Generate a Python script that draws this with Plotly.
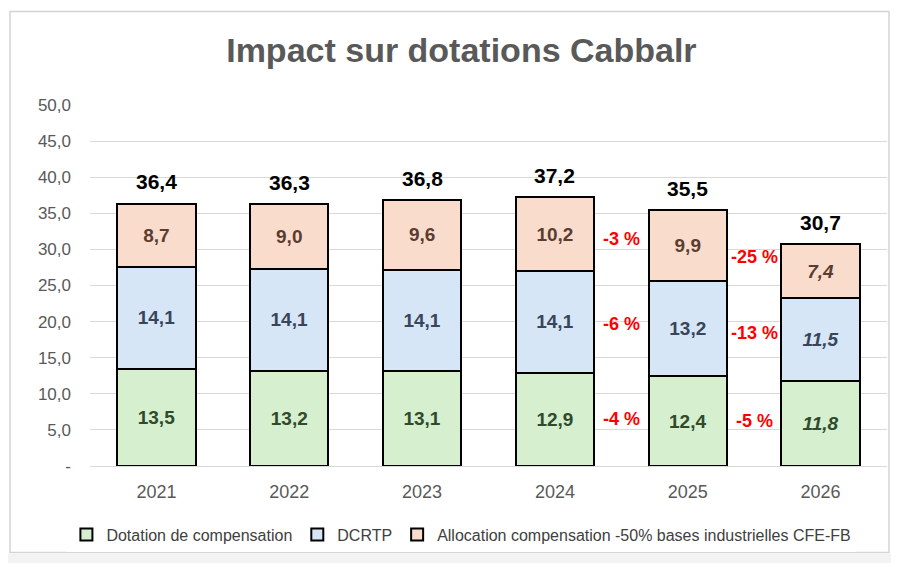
import plotly.graph_objects as go

years = ["2021", "2022", "2023", "2024", "2025", "2026"]
dotation = [13.5, 13.2, 13.1, 12.9, 12.4, 11.8]
dcrtp = [14.1, 14.1, 14.1, 14.1, 13.2, 11.5]
allocation = [8.7, 9.0, 9.6, 10.2, 9.9, 7.4]
totals = [36.4, 36.3, 36.8, 37.2, 35.5, 30.7]

# evolutions (bottom -> top: dotation, dcrtp, allocation)
evol_2025 = ["-4 %", "-6 %", "-3 %"]
evol_2026 = ["-5 %", "-13 %", "-25 %"]

y_ticks = [0, 5, 10, 15, 20, 25, 30, 35, 40, 45, 50]
y_ticktext = ["-", "5,0", "10,0", "15,0", "20,0", "25,0", "30,0", "35,0", "40,0", "45,0", "50,0"]


def fmt(v):
    return f"{v:.1f}".replace(".", ",")


def labels(vals):
    # last year (estimation) in italics
    out = [fmt(v) for v in vals]
    out[-1] = "<i>" + out[-1] + "</i>"
    return out


FONT = "Liberation Sans, Arial, sans-serif"

series = [
    ("Dotation de compensation", dotation, "#d6efcf", "#2f4a2c"),
    ("DCRTP", dcrtp, "#d7e6f6", "#38455a"),
    ("Allocation compensation -50% bases industrielles CFE-FB", allocation, "#fadccd", "#5a3d31"),
]

fig = go.Figure()
for name, vals, fill, txtcol in series:
    fig.add_trace(go.Bar(
        name=name, x=years, y=vals,
        text=labels(vals), textposition="inside", insidetextanchor="middle",
        textangle=0, constraintext="none",
        textfont=dict(family=FONT, size=19, color=txtcol, weight="bold"),
        marker=dict(color=fill, line=dict(color="black", width=2)),
        hoverinfo="skip",
    ))

# totals above the bars
for i, t in enumerate(totals):
    fig.add_annotation(x=i, y=t, text="<b>" + fmt(t) + "</b>", showarrow=False,
                       yanchor="bottom", yshift=8,
                       font=dict(family=FONT, size=21, color="black"))


# red evolution labels between bars, halfway between segment middles
def mids(i):
    a, b, c = dotation[i], dcrtp[i], allocation[i]
    return [a / 2, a + b / 2, a + b + c / 2]


for i, evol in [(4, evol_2025), (5, evol_2026)]:
    m0, m1 = mids(i - 1), mids(i)
    for k, txt in enumerate(evol):
        fig.add_annotation(x=i - 0.5, y=(m0[k] + m1[k]) / 2, text="<b>" + txt + "</b>",
                           showarrow=False, yshift=1,
                           font=dict(family=FONT, size=18, color="#ff0000"))

# outer frame of the chart
fig.add_shape(type="rect", xref="paper", yref="paper", x0=-0.1004, x1=1.0025,
              y0=-0.2397, y1=1.259, line=dict(color="#d4d4d4", width=1.5),
              fillcolor="rgba(0,0,0,0)", layer="below")
fig.add_shape(type="rect", xref="paper", yref="paper", x0=-0.2, x1=1.1,
              y0=-0.243, y1=-0.3, line=dict(width=0),
              fillcolor="#f3f3f3", layer="below")

fig.update_layout(
    width=891, height=555,
    margin=dict(l=82, r=12, t=97, b=95),
    paper_bgcolor="white", plot_bgcolor="white",
    barmode="stack", bargap=0.41,
    title=dict(text="<b>Impact sur dotations Cabbalr</b>", x=0.466, xref="paper",
               xanchor="center", y=0.924, yanchor="middle",
               font=dict(family=FONT, size=34, color="#595959")),
    showlegend=True,
    legend=dict(orientation="h", x=0.466, xanchor="center", y=-0.19, yanchor="middle",
                font=dict(family=FONT, size=16, color="#404040"),
                traceorder="normal", itemwidth=30),
)

fig.update_xaxes(type="category", showgrid=False, showline=True, linecolor="#d9d9d9",
                 linewidth=1, ticks="", ticklabelstandoff=9,
                 tickfont=dict(family=FONT, size=18, color="#595959"))
fig.update_yaxes(range=[0, 50], tickvals=y_ticks, ticktext=y_ticktext,
                 showgrid=True, gridcolor="#d9d9d9", gridwidth=1, zeroline=False,
                 ticks="", ticklabelstandoff=18,
                 tickfont=dict(family=FONT, size=17, color="#595959"))

fig.write_html("out.html")
